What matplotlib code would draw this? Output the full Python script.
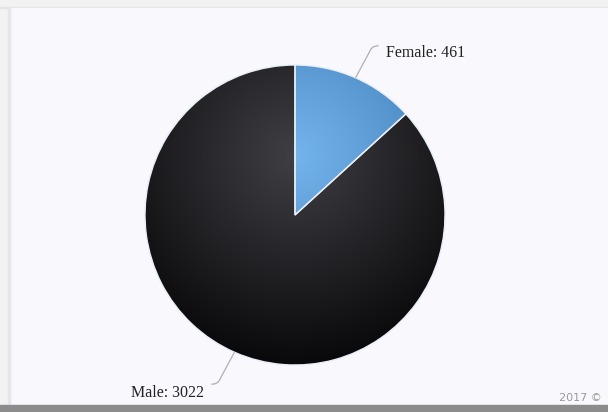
"""
Camembert Highcharts-like : répartition par genre.
"""

import numpy as np
import matplotlib.pyplot as plt
from matplotlib.patches import Rectangle
from matplotlib.path import Path
from matplotlib.patches import PathPatch
from matplotlib.colors import LinearSegmentedColormap

labels = ["Female", "Male"]
values = [461, 3022]
centre_colors = ["#74b4ec", "#403f44"]
edge_colors = ["#3a76b2", "#09090b"]

W, H = 608, 412
fig = plt.figure(figsize=(W / 100, H / 100), dpi=100)
fig.patch.set_facecolor("#f2f2f2")
ax = fig.add_axes([0, 0, 1, 1])
ax.set_xlim(0, W)
ax.set_ylim(0, H)
ax.axis("off")

# --- fond de la zone du graphique ---
ax.add_patch(Rectangle((0, H - 8), W, 1, color="#e4e4e4", zorder=0))
ax.add_patch(Rectangle((10, 8), W - 10, H - 16, color="#f8f8fd", zorder=0))
ax.add_patch(Rectangle((8, 8), 2, H - 16, color="#e6e6e6", zorder=0))

# --- camembert ---
cx, cy, r = 295, H - 215, 150
wedges, _ = ax.pie(values, center=(cx, cy), radius=r, startangle=90,
                   counterclock=False, frame=True,
                   wedgeprops=dict(edgecolor="#e8eff8", linewidth=1.0))
ax.set_xlim(0, W)
ax.set_ylim(0, H)
ax.set_aspect("equal")
ax.axis("off")

# dégradé radial commun à tout le camembert
gx, gy, gr = cx, cy + 0.2 * 2 * r, 0.7 * 2 * r
xx, yy = np.meshgrid(np.linspace(cx - r, cx + r, 300), np.linspace(cy - r, cy + r, 300))
dist = np.clip(np.hypot(xx - gx, yy - gy) / gr, 0, 1)
for w, c0, c1 in zip(wedges, centre_colors, edge_colors):
    w.set_facecolor("none")
    cmap = LinearSegmentedColormap.from_list("g", [c0, c1])
    im = ax.imshow(dist, cmap=cmap, vmin=0, vmax=1, origin="lower",
                   extent=(cx - r, cx + r, cy - r, cy + r), zorder=1,
                   interpolation="bilinear")
    im.set_clip_path(w)
    w.set_zorder(2)

# --- étiquettes avec connecteurs ---
total = sum(values)
angle = 0.0
for lab, v in zip(labels, values):
    mid = np.deg2rad(angle + 180 * v / total)
    angle += 360 * v / total
    x0, y0 = cx + r * np.sin(mid), cy + r * np.cos(mid)
    right = np.sin(mid) >= 0
    s = 1 if right else -1
    up = 1 if np.cos(mid) >= 0 else -1
    x1, y1 = x0 + s * 15, y0 + up * 28
    x2, y2 = x1 + s * 8, y1 + up * 4
    path = Path([(x0, y0), (x1, y1), (x1 + s * 2, y2), (x2, y2)],
                [Path.MOVETO, Path.LINETO, Path.CURVE3, Path.CURVE3])
    ax.add_patch(PathPatch(path, fc="none", ec="#b0b0b0", lw=0.9, zorder=3))
    dy = -7 if right else -9
    ax.text(x2 + s * 7, y2 + dy, f"{lab}: {v}", ha="left" if right else "right",
            va="center", fontsize=11.5, family="Liberation Serif", color="#222222",
            zorder=4)

# --- pied de page ---
ax.text(W - 6, 9, "2017 ©", ha="right", va="bottom", fontsize=8,
        family="DejaVu Sans", color="#9a9a9a", zorder=4)
ax.add_patch(Rectangle((0, 0), W, 7, color="#8c8c8c", zorder=5))

fig.savefig("out.png", dpi=100, facecolor=fig.get_facecolor())
